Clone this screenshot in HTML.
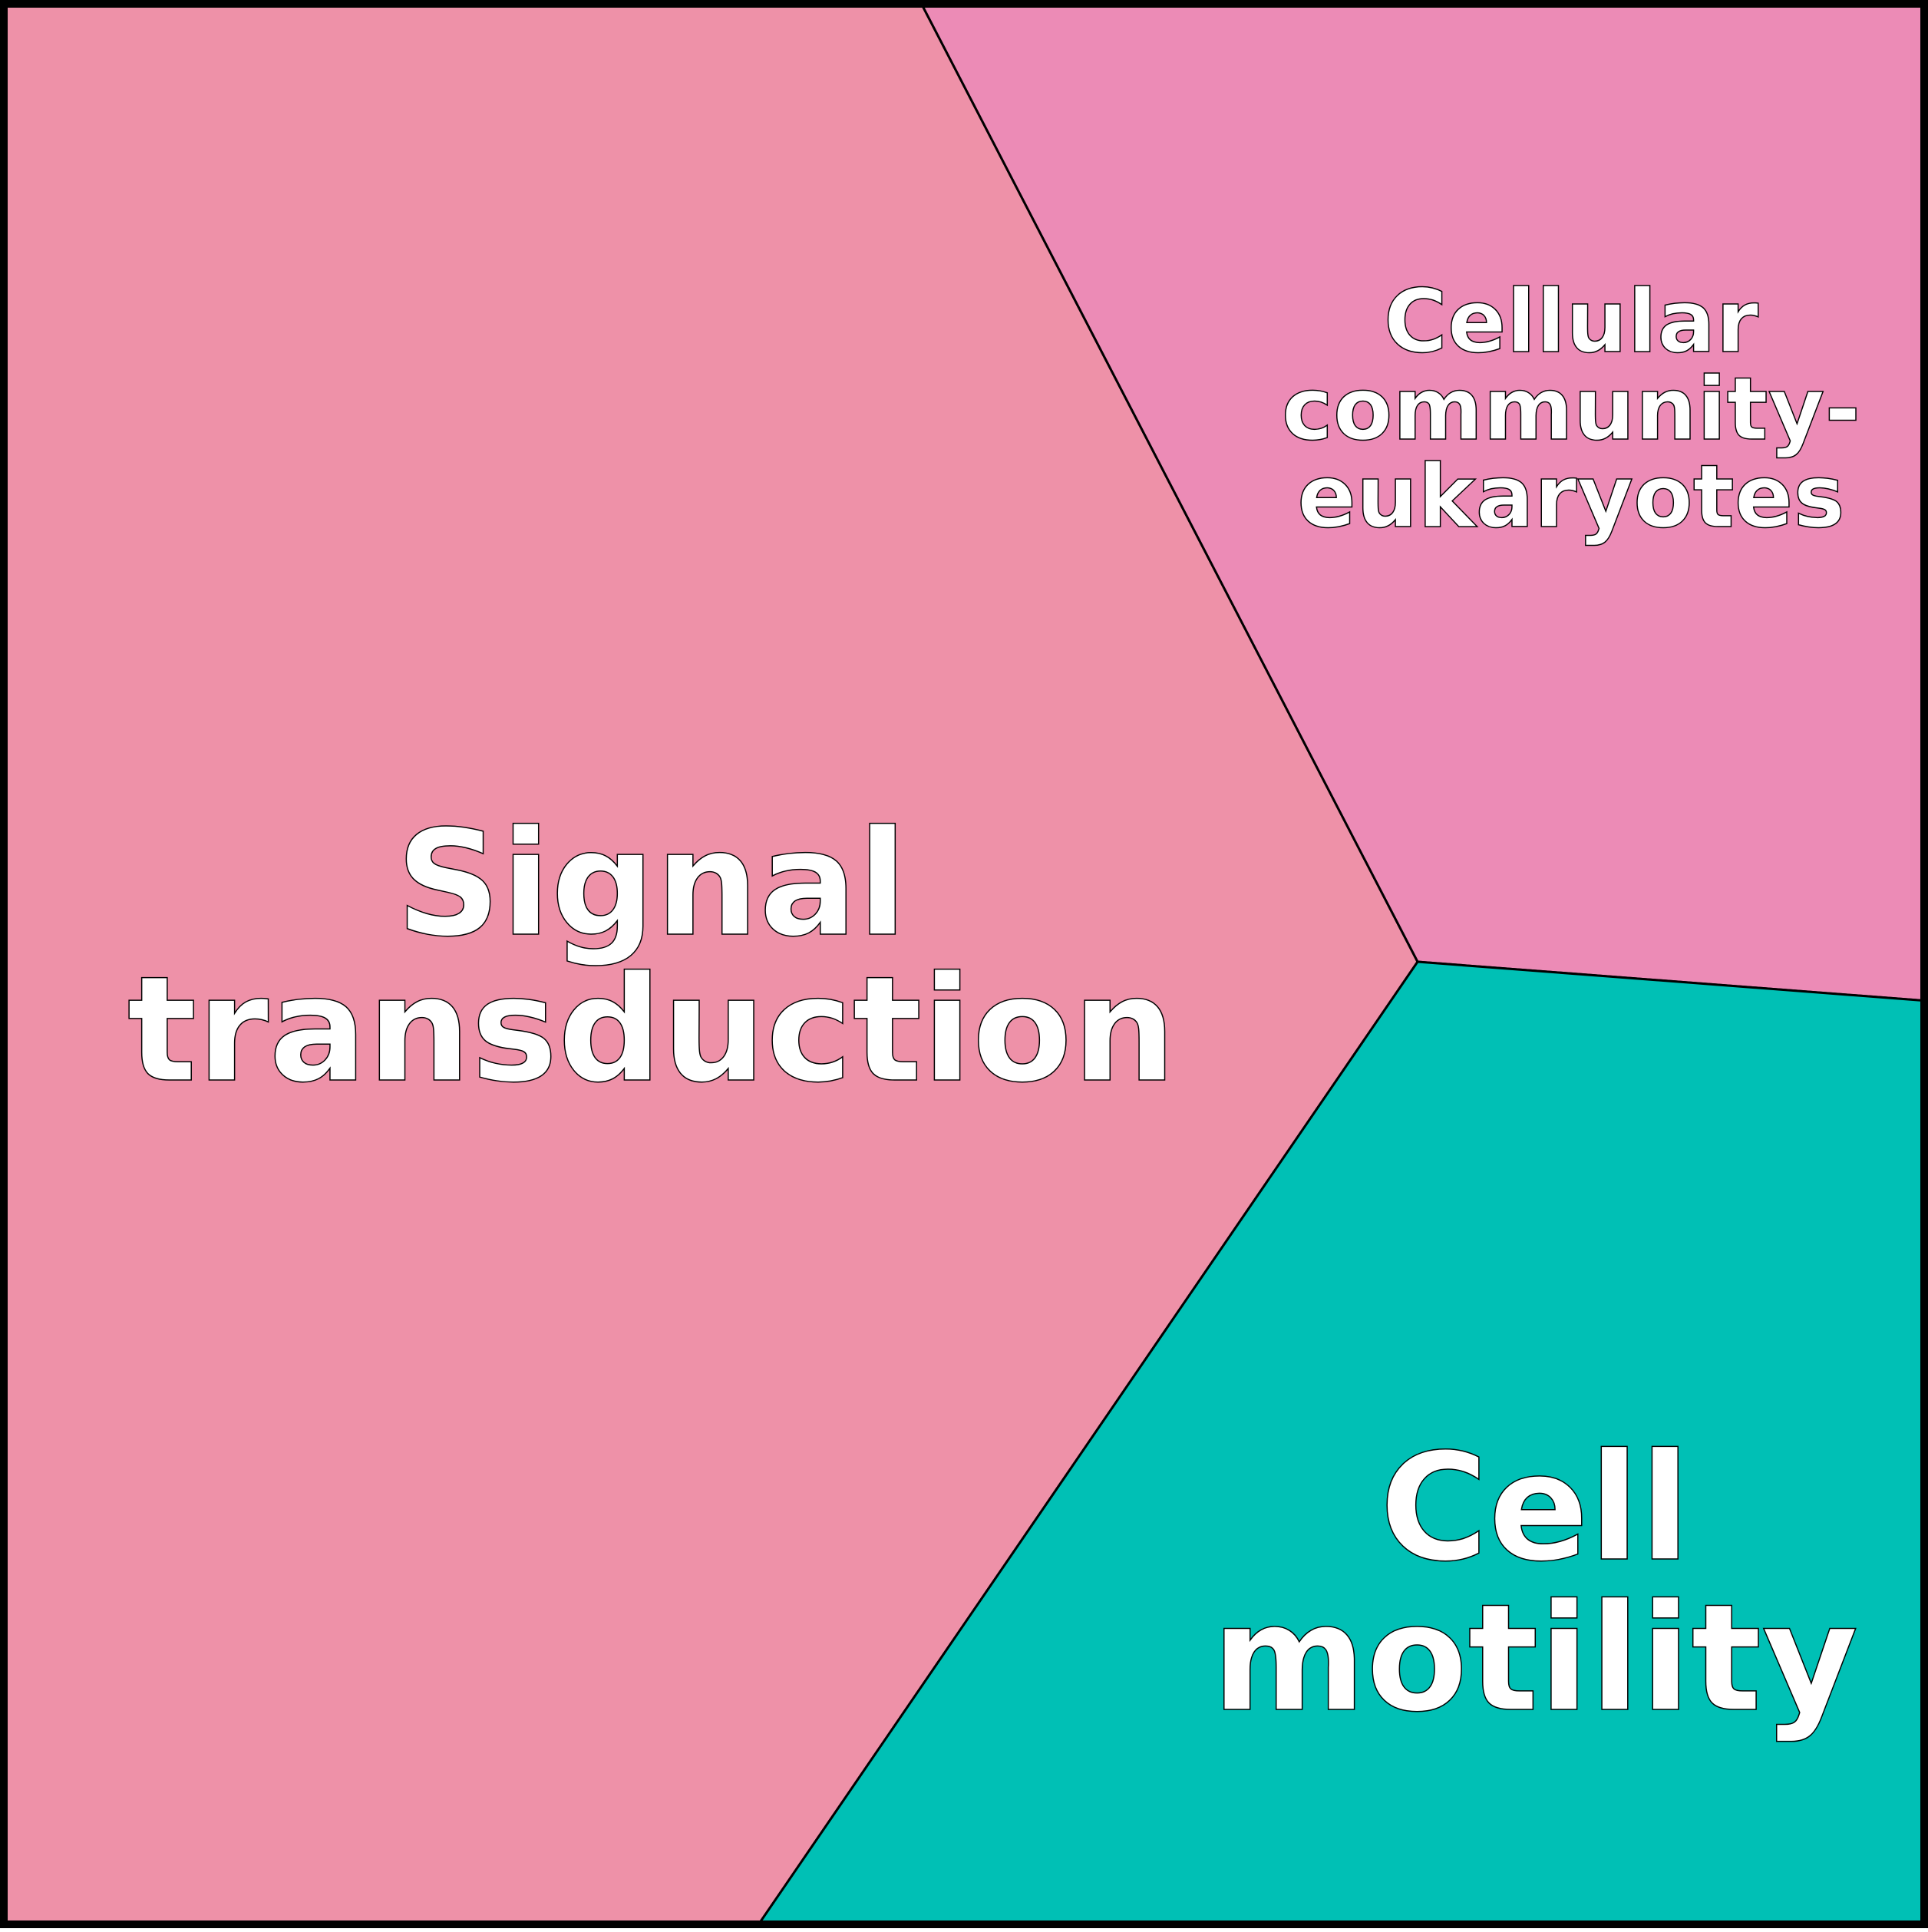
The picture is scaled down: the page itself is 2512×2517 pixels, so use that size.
<!DOCTYPE html>
<html><head><style>html,body{margin:0;padding:0;background:#fff}</style></head><body>
<svg width="2512" height="2512" viewBox="0 0 2512 2512" xmlns="http://www.w3.org/2000/svg">
<polygon points="0,0 1198,0 1847,1253 985,2512 0,2512" fill="#EE91A8" stroke="#000" stroke-width="3"/>
<polygon points="1198,0 2512,0 2512,1304 1847,1253" fill="#EC8BB6" stroke="#000" stroke-width="3"/>
<polygon points="1847,1253 2512,1304 2512,2512 985,2512" fill="#00C0B5" stroke="#000" stroke-width="3"/>
<rect x="5" y="5" width="2502" height="2502" fill="none" stroke="#000" stroke-width="10"/>
<g font-family="DejaVu Sans, Liberation Sans, sans-serif" font-weight="bold" fill="#fff" stroke="#000" stroke-width="1.5" text-anchor="middle">
<text x="849" y="1217" font-size="190">Signal</text>
<text x="849" y="1407" font-size="190">transduction</text>
<text x="2000" y="2031" font-size="193">Cell</text>
<text x="2000" y="2227" font-size="193">motility</text>
<text x="2047" y="458" font-size="113">Cellular</text>
<text x="2047" y="572" font-size="113">community-</text>
<text x="2047" y="686" font-size="113">eukaryotes</text>
</g>
</svg>
</body></html>
